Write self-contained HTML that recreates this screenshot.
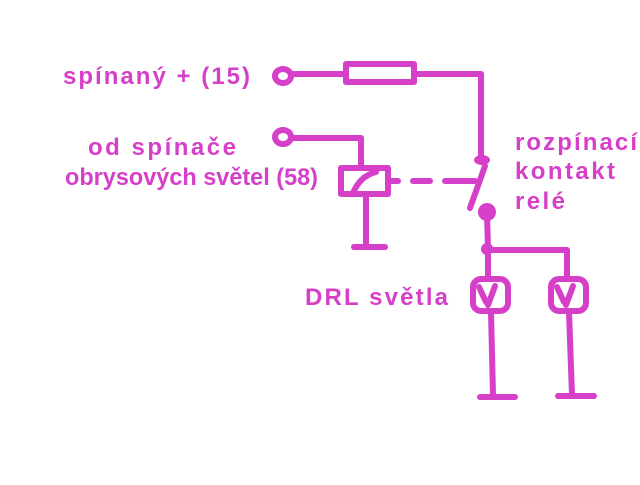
<!DOCTYPE html>
<html><head><style>
body{margin:0;background:#fff;}
svg text{font-family:"Liberation Sans",sans-serif;font-weight:bold;font-size:24px;fill:#d63fc8;}
</style></head><body>
<svg width="640" height="480" xmlns="http://www.w3.org/2000/svg">
<g stroke="#d63fc8" stroke-width="6" fill="none" stroke-linecap="round" stroke-linejoin="round">
<ellipse cx="283" cy="76" rx="8" ry="7"/>
<line x1="291" y1="74" x2="345" y2="74"/>
<rect x="346" y="64" width="68" height="18"/>
<polyline points="414,74 481,74 481,158"/>
<line x1="485" y1="166" x2="470" y2="208"/>
<ellipse cx="283" cy="137" rx="8" ry="7"/>
<polyline points="291,138 361,138 361,168"/>
<rect x="341" y="168" width="47" height="26"/>
<path d="M353 193 Q360 176 376 172"/>
<line x1="388" y1="181" x2="398" y2="181"/>
<line x1="413" y1="181" x2="430" y2="181"/>
<line x1="445" y1="181" x2="475" y2="181"/>
<line x1="366" y1="194" x2="366" y2="246"/>
<line x1="354" y1="247" x2="385" y2="247"/>
<line x1="487" y1="214" x2="488" y2="248"/>
<polyline points="488,250 567,250 567,278"/>
<line x1="488" y1="250" x2="488" y2="278"/>
<rect x="473" y="279" width="35" height="32" rx="8"/>
<rect x="551" y="279" width="35" height="32" rx="8"/>
<path d="M479 287 L486 302 M495 286 L488 305"/>
<path d="M557 287 L564 302 M573 286 L566 305"/>
<line x1="491" y1="312" x2="493" y2="395"/>
<line x1="569" y1="312" x2="572" y2="395"/>
<line x1="480" y1="397" x2="515" y2="397"/>
<line x1="558" y1="396" x2="594" y2="396"/>
</g>
<g fill="#d63fc8">
<ellipse cx="482" cy="160" rx="8" ry="5"/>
<circle cx="487" cy="212" r="9"/>
<circle cx="487" cy="249" r="6"/>
</g>
<text x="63" y="84" textLength="187" lengthAdjust="spacing">spínaný + (15)</text>
<text x="88" y="155" textLength="148" lengthAdjust="spacing">od spínače</text>
<text x="65" y="185" textLength="253" lengthAdjust="spacingAndGlyphs">obrysových světel (58)</text>
<text x="515" y="150" textLength="122" lengthAdjust="spacing">rozpínací</text>
<text x="515" y="179" textLength="100" lengthAdjust="spacing">kontakt</text>
<text x="515" y="209" textLength="50" lengthAdjust="spacing">relé</text>
<text x="305" y="305" textLength="143" lengthAdjust="spacing">DRL světla</text>
</svg>
</body></html>
